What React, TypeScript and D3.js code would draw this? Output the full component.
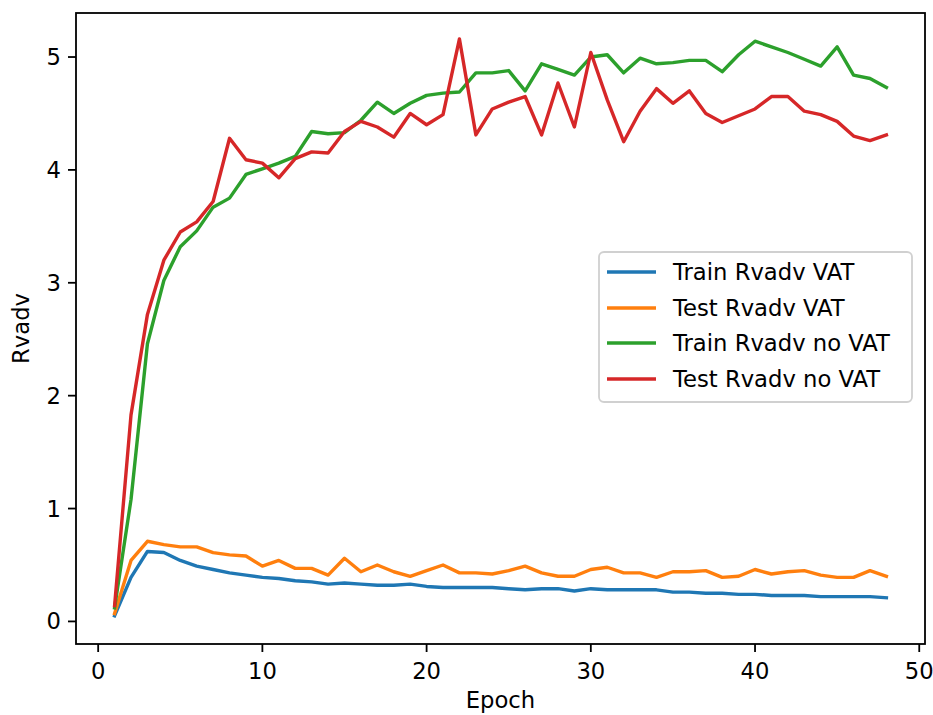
import * as d3 from "d3";

const epochs = [
  1, 2, 3, 4, 5, 6, 7, 8, 9, 10, 11, 12, 13, 14, 15, 16, 17, 18, 19, 20, 21, 22, 23, 24,
  25, 26, 27, 28, 29, 30, 31, 32, 33, 34, 35, 36, 37, 38, 39, 40, 41, 42, 43, 44, 45, 46, 47, 48,
];

const trainVat = [
  0.05, 0.39, 0.62, 0.61, 0.54, 0.49, 0.46, 0.43, 0.41, 0.39, 0.38, 0.36, 0.35, 0.33, 0.34, 0.33,
  0.32, 0.32, 0.33, 0.31, 0.3, 0.3, 0.3, 0.3, 0.29, 0.28, 0.29, 0.29, 0.27, 0.29, 0.28, 0.28,
  0.28, 0.28, 0.26, 0.26, 0.25, 0.25, 0.24, 0.24, 0.23, 0.23, 0.23, 0.22, 0.22, 0.22, 0.22, 0.21,
];

const testVat = [
  0.07, 0.54, 0.71, 0.68, 0.66, 0.66, 0.61, 0.59, 0.58, 0.49, 0.54, 0.47, 0.47, 0.41, 0.56, 0.44,
  0.5, 0.44, 0.4, 0.45, 0.5, 0.43, 0.43, 0.42, 0.45, 0.49, 0.43, 0.4, 0.4, 0.46, 0.48, 0.43,
  0.43, 0.39, 0.44, 0.44, 0.45, 0.39, 0.4, 0.46, 0.42, 0.44, 0.45, 0.41, 0.39, 0.39, 0.45, 0.4,
];

const trainNoVat = [
  0.12, 1.08, 2.46, 3.02, 3.32, 3.46, 3.67, 3.75, 3.96, 4.01, 4.06, 4.12, 4.34, 4.32, 4.33, 4.44,
  4.6, 4.5, 4.59, 4.66, 4.68, 4.69, 4.86, 4.86, 4.88, 4.7, 4.94, 4.89, 4.84, 5.0, 5.02, 4.86,
  4.99, 4.94, 4.95, 4.97, 4.97, 4.87, 5.02, 5.14, 5.09, 5.04, 4.98, 4.92, 5.09, 4.84, 4.81, 4.73,
];

const testNoVat = [
  0.14, 1.83, 2.72, 3.2, 3.45, 3.54, 3.72, 4.28, 4.09, 4.06, 3.93, 4.1, 4.16, 4.15, 4.34, 4.43,
  4.38, 4.29, 4.5, 4.4, 4.49, 5.16, 4.31, 4.54, 4.6, 4.65, 4.31, 4.77, 4.38, 5.04, 4.62, 4.25,
  4.52, 4.72, 4.59, 4.7, 4.5, 4.42, 4.48, 4.54, 4.65, 4.65, 4.52, 4.49, 4.43, 4.3, 4.26, 4.31,
];

const seriesNames = ["Train Rvadv VAT", "Test Rvadv VAT", "Train Rvadv no VAT", "Test Rvadv no VAT"];
const seriesValues = [trainVat, testVat, trainNoVat, testNoVat];
const colors = ["#1f77b4", "#ff7f0e", "#2ca02c", "#d62728"];

const xTicks = [0, 10, 20, 30, 40, 50];
const yTicks = [0, 1, 2, 3, 4, 5];

export default function App() {
  const width = 933;
  const height = 715;
  const plot = { left: 76, right: 925, top: 13, bottom: 644 };
  const font = "'DejaVu Sans', sans-serif";
  const fs = 22.7;

  const x = d3.scaleLinear().domain([-1.35, 50.35]).range([plot.left, plot.right]);
  const y = d3.scaleLinear().domain([-0.2, 5.39]).range([plot.bottom, plot.top]);

  const line = d3
    .line<number>()
    .x((_, i) => x(epochs[i]))
    .y((d) => y(d));

  const legend = { x: 599, y: 252, w: 313, h: 150, rowY: [272, 308, 343, 379] };

  return (
    <svg
      width={width}
      height={height}
      style={{ position: "absolute", left: 0, top: 0, background: "#fff" }}
      fontFamily={font}
    >
      <rect x={0} y={0} width={width} height={height} fill="#fff" />

      {seriesValues.map((vals, i) => (
        <path
          key={seriesNames[i]}
          d={line(vals) ?? ""}
          fill="none"
          stroke={colors[i]}
          strokeWidth={3.4}
          strokeLinejoin="round"
          strokeLinecap="square"
        />
      ))}

      {/* spines */}
      <rect
        x={plot.left}
        y={plot.top}
        width={plot.right - plot.left}
        height={plot.bottom - plot.top}
        fill="none"
        stroke="#000"
        strokeWidth={1.8}
      />

      {xTicks.map((t) => (
        <g key={`x-${t}`} transform={`translate(${x(t)},${plot.bottom})`}>
          <line y1={0} y2={8} stroke="#000" strokeWidth={1.8} />
          <text y={35} textAnchor="middle" fontSize={fs} fill="#000">
            {t}
          </text>
        </g>
      ))}

      {yTicks.map((t) => (
        <g key={`y-${t}`} transform={`translate(${plot.left},${y(t)})`}>
          <line x1={0} x2={-8} stroke="#000" strokeWidth={1.8} />
          <text x={-15} y={8} textAnchor="end" fontSize={fs} fill="#000">
            {t}
          </text>
        </g>
      ))}

      <text x={(plot.left + plot.right) / 2} y={708} textAnchor="middle" fontSize={fs} fill="#000">
        Epoch
      </text>
      <text
        transform={`translate(29,${(plot.top + plot.bottom) / 2}) rotate(-90)`}
        textAnchor="middle"
        fontSize={fs}
        fill="#000"
      >
        Rvadv
      </text>

      {/* legend */}
      <rect
        x={legend.x}
        y={legend.y}
        width={legend.w}
        height={legend.h}
        rx={5}
        fill="#fff"
        fillOpacity={0.8}
        stroke="#d0d0d0"
        strokeWidth={1.8}
      />
      {seriesNames.map((name, i) => (
        <g key={`lg-${name}`}>
          <line
            x1={607}
            x2={656}
            y1={legend.rowY[i]}
            y2={legend.rowY[i]}
            stroke={colors[i]}
            strokeWidth={3.4}
          />
          <text x={673} y={legend.rowY[i] + 8} fontSize={fs} fill="#000">
            {name}
          </text>
        </g>
      ))}
    </svg>
  );
}
